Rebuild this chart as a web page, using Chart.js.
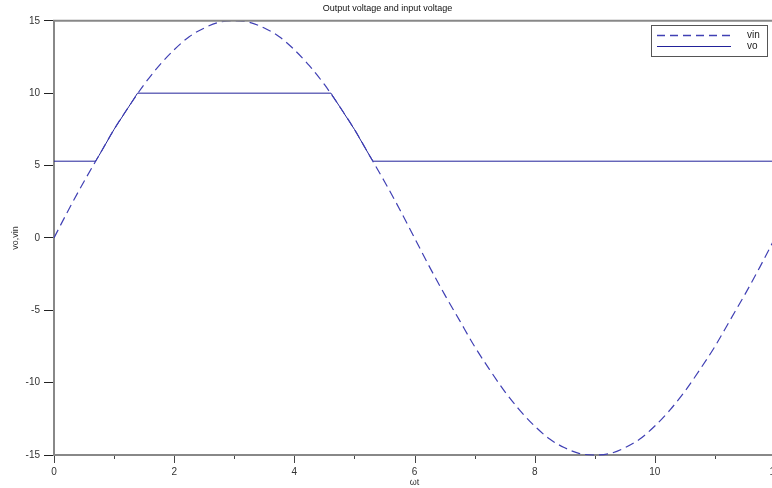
<!DOCTYPE html>
<html>
<head>
<meta charset="utf-8">
<script src="https://cdn.jsdelivr.net/npm/chart.js@4"></script>
<style>
  body { margin: 0; background: #fff; }
  #wrap { width: 772px; height: 488px; overflow: hidden; position: relative; }
  canvas { display: block; }
</style>
</head>
<body>
<div id="wrap"><canvas id="chart" width="812" height="488"></canvas></div>
<script>
// ωt samples and vin
const wt = [0, 0.25, 0.5, 0.75, 1, 1.25, 1.5, 1.75, 2, 2.25, 2.5, 2.75, 3, 3.25, 3.5, 3.75,
  4, 4.25, 4.5, 4.75, 5, 5.25, 5.5, 5.75, 6, 6.25, 6.5, 6.75, 7, 7.25, 7.5, 7.75,
  8, 8.25, 8.5, 8.75, 9, 9.25, 9.5, 9.75, 10, 10.25, 10.5, 10.75, 11, 11.25, 11.5, 11.75, 12];
const vin = [0, 2.0, 3.9, 5.7, 7.5, 9.1, 10.6, 11.9, 13.0, 13.9, 14.5, 14.9, 15.0, 14.9, 14.5, 13.9,
  13.0, 11.9, 10.6, 9.1, 7.5, 5.7, 3.9, 2.0, 0, -2.0, -3.9, -5.7, -7.5, -9.1, -10.6, -11.9,
  -13.0, -13.9, -14.5, -14.9, -15.0, -14.9, -14.5, -13.9, -13.0, -11.9, -10.6, -9.1, -7.5, -5.7, -3.9, -2.0, 0];

// vo (clipped output)
const voT = [0, 0.69, 0.75, 1, 1.25, 1.39, 4.61, 4.75, 5, 5.25, 5.31, 12];
const vo = [5.3, 5.3, 5.7, 7.5, 9.1, 10, 10, 9.1, 7.5, 5.7, 5.3, 5.3];

const xTicks = [0, 2, 4, 6, 8, 10, 12];
const yTicks = [-15, -10, -5, 0, 5, 10, 15];
const seriesNames = ['vin', 'vo'];

const vinColor = '#4040b4';
const voColor = '#22229a';

Chart.defaults.font.family = "'Liberation Sans', Arial, sans-serif";
Chart.defaults.color = '#333';

// top frame line, x tick marks (long majors, short minors) and boxed legend
const framePlugin = {
  id: 'frame',
  afterDraw(chart) {
    const { ctx, chartArea: a } = chart;
    const xs = chart.scales.x;
    ctx.save();
    ctx.strokeStyle = '#888';
    ctx.lineWidth = 2;
    ctx.beginPath();
    ctx.moveTo(a.left - 1, a.top);
    ctx.lineTo(a.right + 40, a.top);
    ctx.stroke();

    ctx.strokeStyle = '#444';
    ctx.lineWidth = 1;
    xs.ticks.forEach(t => {
      const px = Math.round(xs.getPixelForValue(t.value)) + 0.5;
      const len = xTicks.includes(t.value) ? 7 : 3;
      ctx.beginPath();
      ctx.moveTo(px, a.bottom + 1);
      ctx.lineTo(px, a.bottom + 1 + len);
      ctx.stroke();
    });

    // legend
    const lx = 651, ly = 25, lw = 116, lh = 31;
    ctx.fillStyle = '#fff';
    ctx.fillRect(lx, ly, lw, lh);
    ctx.strokeStyle = '#555';
    ctx.strokeRect(lx + 0.5, ly + 0.5, lw, lh);
    ctx.lineWidth = 1.3;
    ctx.strokeStyle = vinColor;
    ctx.setLineDash([8, 5]);
    ctx.beginPath();
    ctx.moveTo(657, 35.5);
    ctx.lineTo(731, 35.5);
    ctx.stroke();
    ctx.setLineDash([]);
    ctx.lineWidth = 1;
    ctx.strokeStyle = voColor;
    ctx.beginPath();
    ctx.moveTo(657, 46.5);
    ctx.lineTo(731, 46.5);
    ctx.stroke();
    ctx.fillStyle = '#222';
    ctx.font = "10px 'Liberation Sans', Arial, sans-serif";
    ctx.textBaseline = 'middle';
    ctx.textAlign = 'left';
    ctx.fillText(seriesNames[0], 747, 35);
    ctx.fillText(seriesNames[1], 747, 46);
    ctx.restore();
  }
};

new Chart(document.getElementById('chart'), {
  type: 'line',
  data: {
    datasets: [
      {
        label: seriesNames[0],
        data: wt.map((x, i) => ({ x, y: vin[i] })),
        borderColor: vinColor,
        borderWidth: 1.2,
        borderDash: [9, 5],
        pointRadius: 0,
        cubicInterpolationMode: 'monotone',
        clip: 3
      },
      {
        label: seriesNames[1],
        data: voT.map((x, i) => ({ x, y: vo[i] })),
        borderColor: voColor,
        borderWidth: 1,
        pointRadius: 0,
        tension: 0,
        clip: 3
      }
    ]
  },
  options: {
    responsive: false,
    animation: false,
    layout: { padding: { left: 0, right: 37, top: 0, bottom: 0 } },
    plugins: {
      legend: { display: false },
      tooltip: { enabled: false },
      title: {
        display: true,
        text: 'Output voltage and input voltage',
        color: '#111',
        font: { size: 9, weight: 'normal' },
        padding: { top: 3, bottom: 7 }
      }
    },
    scales: {
      x: {
        type: 'linear',
        min: 0,
        max: 12,
        afterFit: s => { s.height = 33; },
        border: { display: true, color: '#888', width: 2 },
        grid: { drawOnChartArea: false, tickLength: 7, tickColor: 'rgba(0,0,0,0)' },
        ticks: {
          stepSize: 1,
          autoSkip: false,
          maxRotation: 0,
          padding: 4,
          font: { size: 10 },
          callback: v => xTicks.includes(v) ? v : ''
        },
        title: {
          display: true,
          text: 'ωt',
          font: { size: 9 },
          color: '#333',
          padding: { top: 0, bottom: 0 }
        }
      },
      y: {
        min: -15,
        max: 15,
        afterFit: s => { s.width = 54; },
        afterBuildTicks: s => { s.ticks = yTicks.map(v => ({ value: v })); },
        border: { display: true, color: '#888', width: 2 },
        grid: { drawOnChartArea: false, tickLength: 10, tickColor: '#222' },
        ticks: { padding: 4, font: { size: 10 } },
        title: {
          display: true,
          text: 'vo,vin',
          font: { size: 9 },
          color: '#333',
          padding: { top: 10, bottom: 0 }
        }
      }
    }
  },
  plugins: [framePlugin]
});
</script>
</body>
</html>
